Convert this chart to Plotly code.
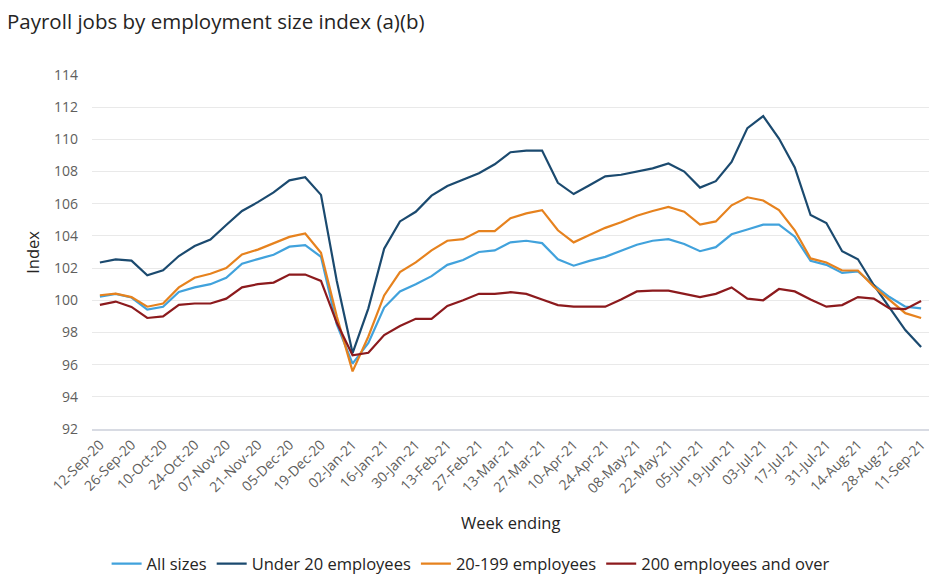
import plotly.graph_objects as go

weeks = ["12-Sep-20","19-Sep-20","26-Sep-20","03-Oct-20","10-Oct-20","17-Oct-20","24-Oct-20","31-Oct-20",
         "07-Nov-20","14-Nov-20","21-Nov-20","28-Nov-20","05-Dec-20","12-Dec-20","19-Dec-20","26-Dec-20",
         "02-Jan-21","09-Jan-21","16-Jan-21","23-Jan-21","30-Jan-21","06-Feb-21","13-Feb-21","20-Feb-21",
         "27-Feb-21","06-Mar-21","13-Mar-21","20-Mar-21","27-Mar-21","03-Apr-21","10-Apr-21","17-Apr-21",
         "24-Apr-21","01-May-21","08-May-21","15-May-21","22-May-21","29-May-21","05-Jun-21","12-Jun-21",
         "19-Jun-21","26-Jun-21","03-Jul-21","10-Jul-21","17-Jul-21","24-Jul-21","31-Jul-21","07-Aug-21",
         "14-Aug-21","21-Aug-21","28-Aug-21","04-Sep-21","11-Sep-21"]

all_sizes = [100.23,100.4,100.17,99.42,99.6,100.52,100.8,101.0,101.4,102.27,102.56,102.83,103.33,103.43,
             102.7,98.5,96.06,97.35,99.55,100.55,101.0,101.5,102.2,102.5,103.0,103.1,103.6,103.7,103.55,
             102.55,102.15,102.45,102.7,103.1,103.45,103.7,103.8,103.5,103.05,103.3,104.1,104.4,104.7,
             104.7,103.95,102.45,102.2,101.7,101.8,100.95,100.2,99.6,99.5]

under_20 = [102.35,102.54,102.46,101.55,101.86,102.75,103.37,103.77,104.68,105.55,106.1,106.7,107.45,107.65,
            106.55,101.2,96.72,99.5,103.2,104.9,105.5,106.5,107.1,107.5,107.9,108.45,109.2,109.3,109.3,
            107.3,106.6,107.15,107.7,107.8,108.0,108.2,108.5,108.0,107.0,107.4,108.6,110.7,111.45,
            110.05,108.25,105.3,104.8,103.05,102.55,100.95,99.55,98.15,97.1]

emp_20_199 = [100.31,100.41,100.2,99.6,99.8,100.8,101.4,101.65,102.0,102.85,103.15,103.55,103.94,104.15,
              102.95,99.0,95.58,97.75,100.3,101.75,102.35,103.1,103.7,103.8,104.3,104.3,105.1,105.4,105.6,
              104.35,103.6,104.05,104.5,104.85,105.25,105.55,105.8,105.5,104.7,104.9,105.9,106.4,106.2,
              105.6,104.35,102.6,102.35,101.85,101.85,100.85,100.0,99.2,98.9]

emp_200_over = [99.71,99.92,99.59,98.9,99.0,99.71,99.8,99.8,100.1,100.8,101.0,101.1,101.6,101.6,
                101.2,98.6,96.58,96.74,97.84,98.4,98.85,98.85,99.65,100.0,100.4,100.4,100.5,100.4,100.05,
                99.7,99.6,99.6,99.6,100.05,100.55,100.6,100.6,100.4,100.2,100.4,100.8,100.1,100.0,
                100.7,100.55,100.05,99.6,99.7,100.2,100.1,99.5,99.45,99.95]

series_names = ["All sizes", "Under 20 employees", "20-199 employees", "200 employees and over"]
colors = ["#41a2dc", "#1b4a6f", "#e6821e", "#8c1a1d"]
y_ticks = list(range(92, 115, 2))

FONT = "Open Sans"

fig = go.Figure()
for name, vals, col in zip(series_names, [all_sizes, under_20, emp_20_199, emp_200_over], colors):
    fig.add_trace(go.Scatter(x=weeks, y=vals, mode="lines", name=name,
                             line=dict(color=col, width=2.2)))

fig.update_layout(
    width=945, height=582,
    margin=dict(l=92, r=16, t=75, b=153, autoexpand=False),
    paper_bgcolor="white", plot_bgcolor="white",
    font=dict(family=FONT, color="#605e5c", size=14),
    title=dict(text="Payroll jobs by employment size index (a)(b)", x=0.0, xanchor="left",
               xref="container", y=0.962, yanchor="middle", pad=dict(l=7, t=0, b=0, r=0),
               font=dict(size=20.5, color="#252423", family=FONT)),
    showlegend=True,
    legend=dict(orientation="h", xref="container", yref="container", x=0.498, xanchor="center",
                y=0.031, yanchor="middle",
                font=dict(size=16.5, color="#252423", family=FONT)),
    xaxis=dict(type="category", range=[-0.5, len(weeks) - 0.5], tickangle=-45, automargin=False,
               tickvals=weeks[::2], ticktext=weeks[::2], showgrid=False,
               showline=True, linecolor="#d8dbe3", linewidth=2, ticks="",
               tickfont=dict(size=14, color="#605e5c")),
    yaxis=dict(range=[92, 114], tickvals=y_ticks, showgrid=True, gridcolor="#e9e9e9", automargin=False,
               gridwidth=1, zeroline=False, ticks="", ticklabelstandoff=13,
               tickfont=dict(size=14, color="#605e5c")),
    annotations=[
        dict(text="Week ending", xref="paper", yref="paper", x=0.5, y=-0.263, showarrow=False,
             xanchor="center", yanchor="middle", font=dict(size=16.5, color="#252423", family=FONT)),
        dict(text="Index", xref="paper", yref="paper", x=-0.072, y=0.5, showarrow=False, textangle=-90,
             xanchor="center", yanchor="middle", font=dict(size=16.5, color="#252423", family=FONT)),
    ],
)

fig.write_html("out.html", config={"displayModeBar": False},
               post_script="document.body.style.margin='0';document.body.style.padding='0';")
